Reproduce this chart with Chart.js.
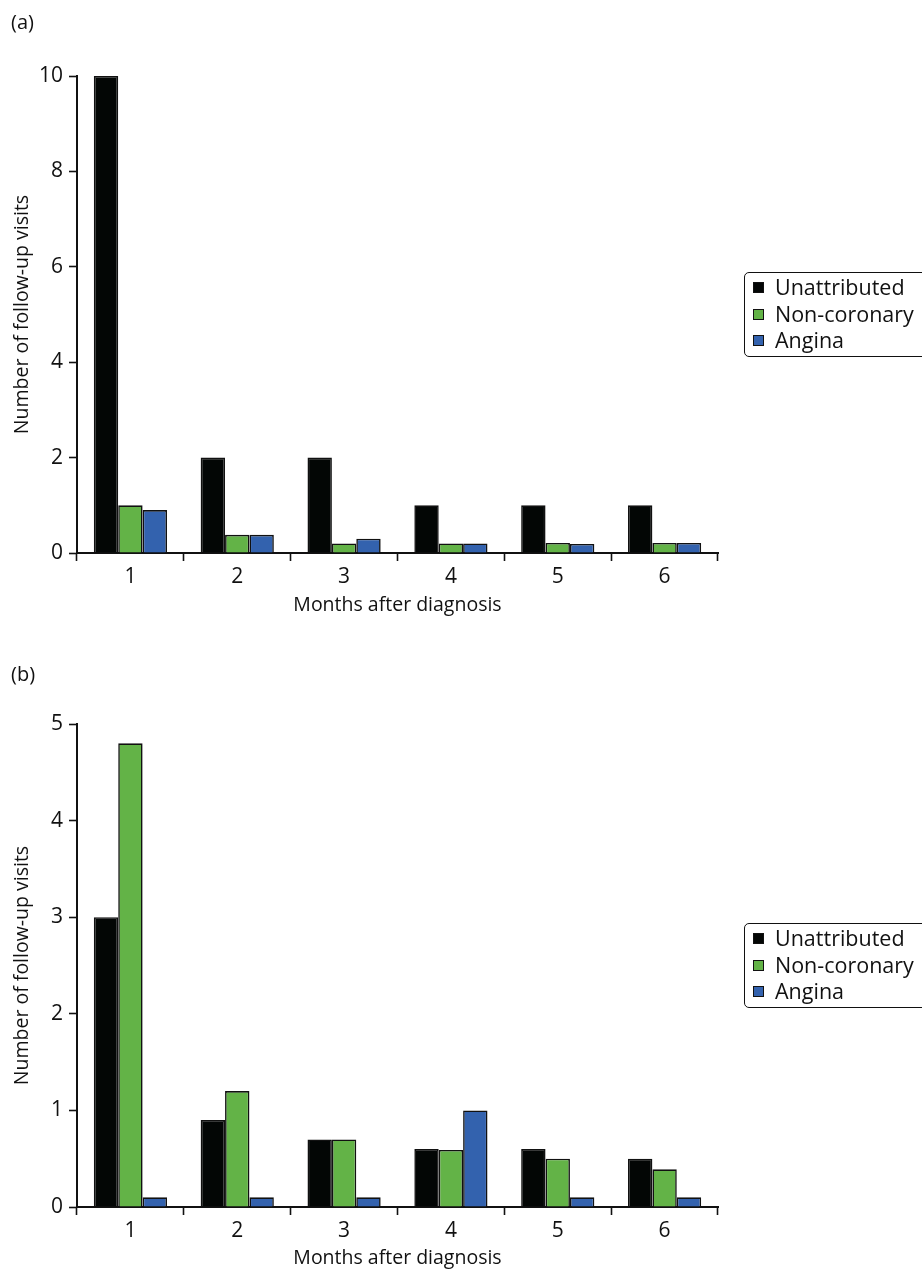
<!DOCTYPE html>
<html>
<head>
<meta charset="utf-8">
<script src="https://cdn.jsdelivr.net/npm/chart.js@4/dist/chart.umd.min.js"></script>
<style>
  html, body { margin: 0; padding: 0; background: #fff; overflow: hidden; }
  body { width: 922px; height: 1272px; font-family: "Open Sans", sans-serif; color: #111; }
  .panel { position: relative; width: 922px; height: 636px; }
  .tag { position: absolute; left: 11px; font-size: 20px; }
  .legend {
    position: absolute; left: 744px; width: 200px;
    border: 1.5px solid #111; border-radius: 5px;
    padding: 1px 0 2px 8px; font-size: 21.5px; line-height: 26.5px;
  }
  .legend span.sw {
    display: inline-block; width: 9px; height: 9px; margin-right: 11px;
    border: 1.2px solid #111; vertical-align: 2px;
  }
</style>
</head>
<body>
<div class="panel" id="panelA">
  <div class="tag" style="top:8px">(a)</div>
  <canvas id="chartA" width="922" height="636"></canvas>
  <div class="legend" id="legendA"></div>
</div>
<div class="panel" id="panelB">
  <div class="tag" style="top:24px">(b)</div>
  <canvas id="chartB" width="922" height="636"></canvas>
  <div class="legend" id="legendB"></div>
</div>
<script>
// months after diagnosis
const months = ["1", "2", "3", "4", "5", "6"];
const seriesNames = ["Unattributed", "Non-coronary", "Angina"];
const seriesColors = ["#030605", "#63b347", "#3362ae"];

// (a) values
const unattributedA = [10, 2, 2, 1, 1, 1];
const nonCoronaryA = [1.0, 0.38, 0.2, 0.2, 0.21, 0.21];
const anginaA = [0.9, 0.38, 0.3, 0.2, 0.19, 0.21];

// (b) values
const unattributedB = [3.0, 0.9, 0.7, 0.6, 0.6, 0.5];
const nonCoronaryB = [4.8, 1.2, 0.7, 0.59, 0.5, 0.39];
const anginaB = [0.1, 0.1, 0.1, 1.0, 0.1, 0.1];

const TICK_FONT = { family: "'Open Sans', sans-serif", size: 21 };
const TITLE_FONT = { family: "'Open Sans', sans-serif", size: 19.5 };

// legend html, vertically centred on the plot area
function makeLegend(el) {
  el.innerHTML = seriesNames
    .map((n, i) => `<div><span class="sw" style="background:${seriesColors[i]}"></span>${n}</div>`)
    .join("");
}

const legendPlace = {
  id: "legendPlace",
  afterRender(chart, args, opts) {
    const el = document.getElementById(opts.el);
    const mid = (chart.chartArea.top + chart.chartArea.bottom) / 2;
    el.style.top = mid - el.offsetHeight / 2 + "px";
  },
};

function buildChart(canvasId, legendId, data, yMax, yStep, pad) {
  makeLegend(document.getElementById(legendId));
  return new Chart(document.getElementById(canvasId), {
    type: "bar",
    data: {
      labels: months,
      datasets: data.map((vals, i) => ({
        label: seriesNames[i],
        data: vals,
        backgroundColor: seriesColors[i],
        borderColor: "#111",
        borderWidth: 1.6,
        borderSkipped: "bottom",
        categoryPercentage: 0.685,
        barPercentage: 1.0,
      })),
    },
    options: {
      responsive: false,
      animation: false,
      events: [],
      layout: { padding: { left: 0, right: 204, top: pad.top, bottom: 0 } },
      plugins: {
        legend: { display: false },
        tooltip: { enabled: false },
        legendPlace: { el: legendId },
      },
      scales: {
        x: {
          grid: {
            drawOnChartArea: false,
            offset: true,
            tickLength: 8,
            tickWidth: 1.6,
            tickColor: "#111",
          },
          border: { color: "#111", width: 2 },
          ticks: { color: "#111", font: TICK_FONT, padding: 3 },
          title: {
            display: true,
            text: "Months after diagnosis",
            color: "#111",
            font: TITLE_FONT,
            padding: { top: 0, bottom: pad.xTitle },
          },
          afterFit: (s) => { s.height = pad.xHeight; },
        },
        y: {
          min: 0,
          max: yMax,
          grid: {
            drawOnChartArea: false,
            tickLength: 8,
            tickWidth: 1.6,
            tickColor: "#111",
          },
          border: { color: "#111", width: 2 },
          ticks: { stepSize: yStep, color: "#111", font: TICK_FONT, padding: 6 },
          title: {
            display: true,
            text: "Number of follow-up visits",
            color: "#111",
            font: TITLE_FONT,
            padding: { top: 11, bottom: 0 },
          },
          afterFit: (s) => { s.width = 77; },
        },
      },
    },
    plugins: [legendPlace],
  });
}

buildChart("chartA", "legendA", [unattributedA, nonCoronaryA, anginaA], 10, 2,
  { top: 76, xHeight: 83, xTitle: 19 });
buildChart("chartB", "legendB", [unattributedB, nonCoronaryB, anginaB], 5, 1,
  { top: 88, xHeight: 65, xTitle: 2 });
</script>
</body>
</html>
